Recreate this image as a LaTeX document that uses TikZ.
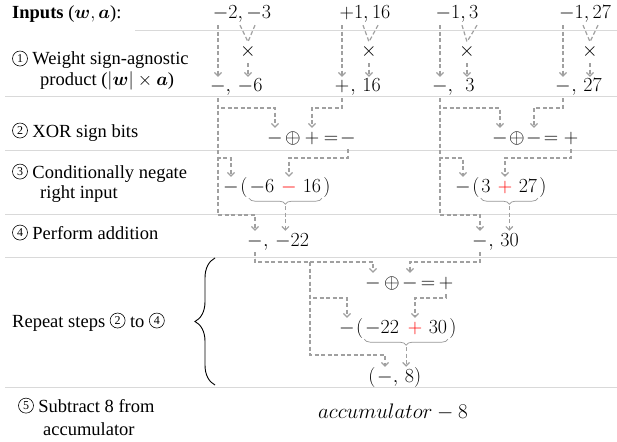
\documentclass[tikz,border=0pt]{standalone}
\usepackage{fix-cm}
\usepackage{fontspec}
\usepackage{bm}
\setmainfont{Liberation Serif}
\usetikzlibrary{arrows.meta,decorations.pathreplacing}
\definecolor{flowgray}{RGB}{160,160,160}
\definecolor{seplight}{RGB}{217,217,217}
\definecolor{bracegray}{RGB}{150,150,150}
\newcommand\cn[1]{\tikz[baseline={([yshift=-2.5pt]c.base)}]\node[draw, circle, line width=0.6pt, inner sep=0pt, minimum size=15pt, font=\fontsize{12}{12}\selectfont] (c) {#1};}

\begin{document}
\begin{tikzpicture}[x=1pt, y=-1pt,
    mth/.style={anchor=base, inner xsep=0.5pt, inner ysep=2pt, text height=13pt, text depth=4pt, font=\fontsize{20}{24}\selectfont},
    lbl/.style={anchor=base west, inner sep=0pt, font=\fontsize{18.5}{22}\selectfont},
    flow/.style={draw=flowgray, line width=1.2pt, dash pattern=on 4pt off 2.5pt, -{Straight Barb[length=3.5pt,width=7pt]}},
    vee/.style={draw=flowgray, line width=1.2pt, dash pattern=on 4pt off 2.5pt},
    sep/.style={draw=seplight, line width=0.8pt},
    ubrace/.style={draw=bracegray, line width=0.7pt, decorate, decoration={brace, mirror, amplitude=6pt}},
    bigbrace/.style={draw=black, line width=0.9pt, decorate, decoration={brace, amplitude=20pt}}]
  \useasboundingbox (0,0) rectangle (617,441);

  % row separators
  \draw[sep] (135,30) -- (617,30);
  \draw[sep] (5,96) -- (617,96);
  \draw[sep] (5,150) -- (617,150);
  \draw[sep] (5,214) -- (617,214);
  \draw[sep] (5,257) -- (617,257);
  \draw[sep] (5,387) -- (617,387);

  % step labels
  \node[lbl] (t0) at (12,19) {\textbf{Inputs} ($\bm{w}, \bm{a}$):};
  \node[lbl] (t1) at (12,65) {\cn{1} Weight sign-agnostic};
  \node[lbl] (t1b) at (40,86) {product ($|\bm{w}|\times\bm{a}$)};
  \node[lbl] (t2) at (12,137) {\cn{2} XOR sign bits};
  \node[lbl] (t3) at (12,178) {\cn{3} Conditionally negate};
  \node[lbl] (t3b) at (40,198) {right input};
  \node[lbl] (t4) at (12,239) {\cn{4} Perform addition};
  \node[lbl] (t5) at (12,327) {Repeat steps \cn{2} to \cn{4}};
  \node[lbl] (t6) at (18,412) {\cn{5} Subtract 8 from};
  \node[lbl] (t6b) at (43,435) {accumulator};
  \draw[bigbrace] (215,385) -- (215,258);

  % inputs and products
  \node[mth] (in1) at (242,19) {$-2,-3$};
  \node[mth] (in2) at (365,19) {$+1,16$};
  \node[mth] (in3) at (457,19) {$-1,3$};
  \node[mth] (in4) at (585,19) {$-1,27$};
  \node[mth] (x1) at (248,57) {$\times$};
  \node[mth] (x2) at (369,57) {$\times$};
  \node[mth] (x3) at (467,57) {$\times$};
  \node[mth] (x4) at (590,57) {$\times$};
  \node[mth] (ps1) at (218,92) {$-$};
  \node[mth] (pm1) at (244,92) {$,\,-6$};
  \node[mth] (ps2) at (342,92) {$+$};
  \node[mth] (pm2) at (365.5,92) {$,\,16$};
  \node[mth] (ps3) at (440,92) {$-$};
  \node[mth] (pm3) at (461,92) {$,\;\,3$};
  \node[mth] (ps4) at (563,92) {$-$};
  \node[mth] (pm4) at (586.5,92) {$,\,27$};

  % xor rows
  \node[mth] (xa1) at (275,143) {$-$};
  \node[mth] (xo1) at (293,143) {$\oplus$};
  \node[mth] (xb1) at (312,143) {$+$};
  \node[mth] (xe1) at (331,143) {$=$};
  \node[mth] (xr1) at (348,143) {$-$};
  \node[mth] (xa2) at (500,143) {$-$};
  \node[mth] (xo2) at (517,143) {$\oplus$};
  \node[mth] (xb2) at (534,143) {$-$};
  \node[mth] (xe2) at (551,143) {$=$};
  \node[mth] (xr2) at (571,143) {$+$};

  % negate rows
  \node[mth] (ng1) at (231,192) {$-$};
  \node[mth] (l1) at (244,192) {$($};
  \node[mth] (u1) at (262,192) {$-6$};
  \node[mth, text=red] (op1) at (289,192) {$-$};
  \node[mth] (v1) at (312,192) {$16$};
  \node[mth] (r1) at (327,192) {$)$};
  \node[mth] (ng2) at (463,192) {$-$};
  \node[mth] (l2) at (476,192) {$($};
  \node[mth] (u2) at (486,192) {$3$};
  \node[mth, text=red] (op2) at (505,192) {$+$};
  \node[mth] (v2) at (528,192) {$27$};
  \node[mth] (r2) at (543,192) {$)$};

  % sums
  \node[mth] (ss1) at (255,246) {$-$};
  \node[mth] (sm1) at (286,246) {$,\,-22$};
  \node[mth] (ss2) at (480,246) {$-$};
  \node[mth] (sm2) at (503.5,246) {$,\,30$};

  % repeated step
  \node[mth] (xa3) at (373,288) {$-$};
  \node[mth] (xo3) at (392,288) {$\oplus$};
  \node[mth] (xb3) at (410,288) {$-$};
  \node[mth] (xe3) at (428,288) {$=$};
  \node[mth] (xr3) at (446,288) {$+$};
  \node[mth] (ng3) at (347,333) {$-$};
  \node[mth] (l3) at (359.7,333) {$($};
  \node[mth] (u3) at (382,333) {$-22$};
  \node[mth, text=red] (op3) at (415,333) {$+$};
  \node[mth] (v3) at (438,333) {$30$};
  \node[mth] (r3) at (453,333) {$)$};
  \node[mth] (fl) at (372,382) {$($};
  \node[mth] (ss3) at (385,382) {$-$};
  \node[mth] (fm) at (407,382) {$,\,8)$};
  \node[mth, font=\fontsize{21}{25}\selectfont] (acc) at (393,418) {$accumulator - 8$};

  % junction levels
  \coordinate (lv2) at (0,108);
  \coordinate (lv3) at (0,158);
  \coordinate (lv4) at (0,215);
  \coordinate (lv5) at (0,262);
  \coordinate (lv6) at (0,298);
  \coordinate (lv7) at (0,355);
  \coordinate (j5) at (310,262);

  % step 1
  \draw[flow] (in1.south -| ps1) -- (ps1.north);
  \draw[vee] ([xshift=-2pt]in1.south) -- (x1.north);
  \draw[vee] ([xshift=13pt]in1.south) -- (x1.north);
  \draw[flow] (x1.south) -- (x1 |- pm1.north);
  \draw[flow] (in2.south -| ps2) -- (ps2.north);
  \draw[vee] ([xshift=-2pt]in2.south) -- (x2.north);
  \draw[vee] ([xshift=13pt]in2.south) -- (x2.north);
  \draw[flow] (x2.south) -- (x2 |- pm2.north);
  \draw[flow] (in3.south -| ps3) -- (ps3.north);
  \draw[vee] ([xshift=5pt]in3.south) -- (x3.north);
  \draw[vee] ([xshift=20pt]in3.south) -- (x3.north);
  \draw[flow] (x3.south) -- (x3 |- pm3.north);
  \draw[flow] (in4.south -| ps4) -- (ps4.north);
  \draw[vee] ([xshift=-2pt]in4.south) -- (x4.north);
  \draw[vee] ([xshift=13pt]in4.south) -- (x4.north);
  \draw[flow] (x4.south) -- (x4 |- pm4.north);

  % steps 2 to 4, left pair
  \draw[flow] (ps1.south) |- (xa1 |- lv2) -- (xa1.north);
  \draw[flow] (ps1.south) |- (ng1 |- lv3) -- (ng1.north);
  \draw[flow] (ps1.south) |- (ss1 |- lv4) -- (ss1.north);
  \draw[flow] (ps2.south) |- (xb1 |- lv2) -- (xb1.north);
  \draw[flow] (xr1.south) |- (op1 |- lv3) -- (op1.north);
  \draw[ubrace] (u1.south west) -- coordinate[midway] (bm1) (v1.south east);
  \draw[flow] ([yshift=-8pt]bm1) -- (bm1 |- sm1.north);

  % steps 2 to 4, right pair
  \draw[flow] (ps3.south) |- (xa2 |- lv2) -- (xa2.north);
  \draw[flow] (ps3.south) |- (ng2 |- lv3) -- (ng2.north);
  \draw[flow] (ps3.south) |- (ss2 |- lv4) -- (ss2.north);
  \draw[flow] (ps4.south) |- (xb2 |- lv2) -- (xb2.north);
  \draw[flow] (xr2.south) |- (op2 |- lv3) -- (op2.north);
  \draw[ubrace] (u2.south west) -- coordinate[midway] (bm2) (v2.south east);
  \draw[flow] ([yshift=-8pt]bm2) -- (bm2 |- sm2.north);

  % repeat
  \draw[flow] (ss1.south) |- (xa3 |- lv5) -- (xa3.north);
  \draw[flow] (ss1.south) |- (j5) |- (ng3 |- lv6) -- (ng3.north);
  \draw[flow] (ss1.south) |- (j5) |- (ss3 |- lv7) -- (ss3.north);
  \draw[flow] (ss2.south) |- (xb3 |- lv5) -- (xb3.north);
  \draw[flow] (xr3.south) |- (op3 |- lv6) -- (op3.north);
  \draw[ubrace] (u3.south west) -- coordinate[midway] (bm3) (v3.south east);
  \draw[flow] ([yshift=-8pt]bm3) -- (bm3 |- fm.north);
\end{tikzpicture}
\end{document}
